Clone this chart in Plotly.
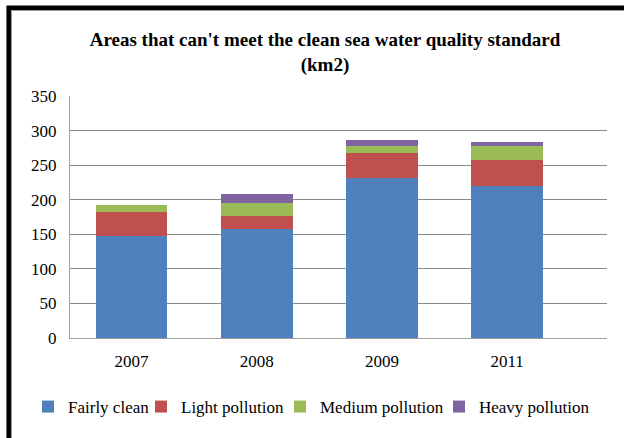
import plotly.graph_objects as go

years = ["2007", "2008", "2009", "2011"]
fairly_clean = [148, 158, 232, 220]
light_pollution = [34, 18, 35, 38]
medium_pollution = [10, 19, 10, 19]
heavy_pollution = [0, 13, 9, 6]

series = [
    ("Fairly clean", fairly_clean, "#4F81BD"),
    ("Light pollution", light_pollution, "#C0504D"),
    ("Medium pollution", medium_pollution, "#9BBB59"),
    ("Heavy pollution", heavy_pollution, "#8064A2"),
]

FF = "Liberation Serif"

W, H = 624, 438
L, R, T, B = 70, 17, 96, 100
pw, ph = W - L - R, H - T - B

def px_x(x):
    return (x - L) / pw

def px_y(y):
    return (H - B - y) / ph

legend_names = ["legend", "legend2", "legend3", "legend4"]
legend_text_x = [68, 181, 320, 479]

fig = go.Figure()
for (name, vals, col), lg in zip(series, legend_names):
    fig.add_trace(go.Bar(x=years, y=vals, name=name, marker_color=col,
                         marker_line_width=0, width=0.573, legend=lg,
                         showlegend=True))

legends = {}
for lg, tx in zip(legend_names, legend_text_x):
    legends[lg] = dict(orientation="h", x=px_x(tx - 40), xanchor="left",
                       y=px_y(407), yanchor="middle",
                       font=dict(family=FF, size=17, color="black"),
                       itemwidth=30, itemclick=False, bgcolor="rgba(0,0,0,0)")

fig.update_layout(
    width=W, height=H,
    margin=dict(l=L, r=R, t=T, b=B, autoexpand=False),
    barmode="stack",
    plot_bgcolor="white", paper_bgcolor="white",
    font=dict(family=FF, size=17, color="black"),
    title=dict(text="<b>Areas that can't meet the clean sea water quality standard<br>(km2)</b>",
               x=px_x(325), xref="paper", xanchor="center",
               y=1 - 46 / H, yref="container", yanchor="middle",
               font=dict(family=FF, size=19, color="black")),
    xaxis=dict(type="category", range=[-0.492, 3.798], showgrid=False,
               showline=True, linecolor="#a0a0a0", linewidth=1,
               ticks="", tickfont=dict(family=FF, size=17, color="black"),
               ticklabelstandoff=8),
    yaxis=dict(range=[0, 350], dtick=50, showgrid=True, gridcolor="#8a8a8a",
               gridwidth=1, showline=True, linecolor="#a0a0a0", linewidth=1,
               zeroline=False, ticks="",
               tickfont=dict(family=FF, size=17, color="black"),
               ticklabelstandoff=9),
    shapes=[
        dict(type="rect", xref="paper", yref="paper", layer="above",
             x0=px_x(8.7), x1=px_x(660), y0=px_y(7.7), y1=px_y(470),
             line=dict(color="black", width=4.5), fillcolor="rgba(0,0,0,0)"),
        dict(type="rect", xref="paper", yref="paper", layer="above",
             x0=px_x(11.5), x1=px_x(660), y0=px_y(10.5), y1=px_y(470),
             line=dict(color="#9a9a9a", width=1), fillcolor="rgba(0,0,0,0)"),
    ],
    **legends,
)

fig.write_html("out.html", config={"displayModeBar": False},
               post_script="document.body.style.margin='0px';")
